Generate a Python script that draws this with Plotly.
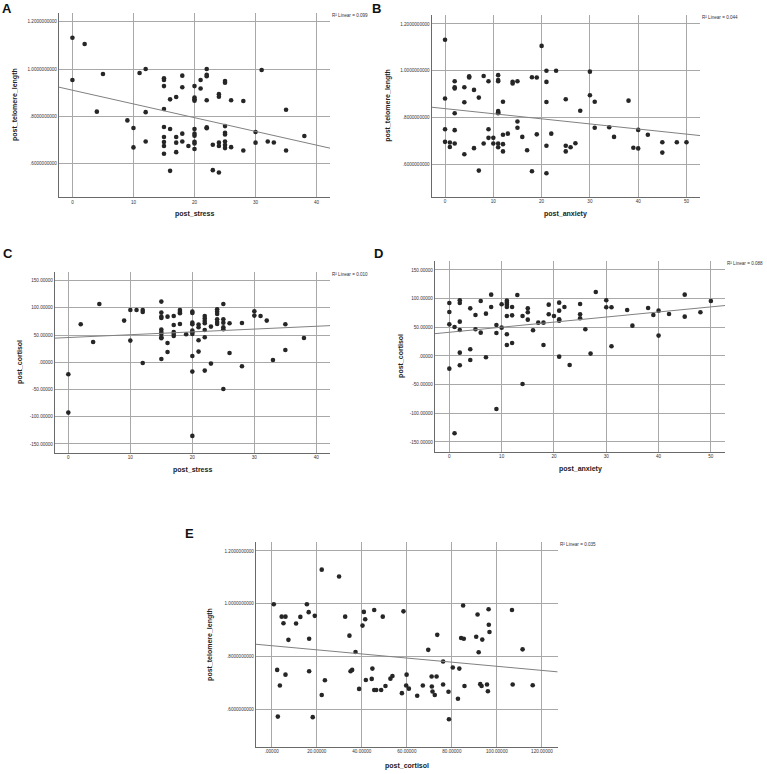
import numpy as np
import plotly.graph_objects as go

# ---------------- DATA ----------------
# Panel A: post_stress vs post_telomere_length
a_stress = [0, 2, 0, 5, 4, 9, 10, 10, 11, 12, 12, 12, 15, 15, 15, 15, 15, 15, 15, 15, 15,
            16, 16, 16, 17, 17, 17, 17, 18, 18, 18, 18, 19, 20, 20, 20, 20, 20, 20, 20, 20, 20, 20,
            21, 21, 22, 22, 22, 22, 22, 22, 23, 23, 24, 24, 24, 24, 24, 25, 25, 25, 25, 25, 25, 25, 25,
            26, 26, 28, 28, 30, 30, 31, 32, 33, 35, 35, 38]
a_telomere = [1.132, 1.106, 0.954, 0.979, 0.820, 0.783, 0.751, 0.669, 0.983, 1.000, 0.818, 0.694,
              0.961, 0.954, 0.928, 0.831, 0.755, 0.713, 0.692, 0.675, 0.642,
              0.872, 0.747, 0.570, 0.882, 0.713, 0.689, 0.649, 0.972, 0.923, 0.727, 0.694, 0.675,
              0.928, 0.880, 0.872, 0.866, 0.747, 0.727, 0.718, 0.693, 0.686, 0.662,
              0.954, 0.918, 1.000, 0.976, 0.970, 0.868, 0.754, 0.750, 0.680, 0.573,
              0.894, 0.883, 0.689, 0.675, 0.563, 0.949, 0.942, 0.759, 0.731, 0.724, 0.694, 0.679, 0.666,
              0.868, 0.670, 0.865, 0.656, 0.734, 0.689, 0.996, 0.694, 0.690, 0.828, 0.656, 0.717]

# Panel B: post_anxiety vs post_telomere_length
b_anxiety = [0, 0, 0, 0, 1, 1, 2, 2, 2, 2, 2, 2, 4, 4, 4, 5, 5, 6, 6, 7, 7, 8, 8, 9, 9, 9,
             10, 10, 11, 11, 11, 11, 11, 11, 11, 11, 12, 12, 12, 12, 13, 14, 14, 15, 15, 15,
             16, 17, 18, 18, 19, 19, 20, 21, 21, 21, 21, 21, 22, 23, 25, 25, 25, 26, 27, 28,
             30, 30, 31, 31, 34, 35, 38, 39, 40, 40, 42, 45, 45, 48, 50]
b_telomere = [1.132, 0.881, 0.750, 0.696, 0.693, 0.674, 0.955, 0.929, 0.924, 0.818, 0.746, 0.689,
              0.929, 0.865, 0.643, 0.976, 0.971, 0.918, 0.669, 0.885, 0.573, 0.977, 0.689,
              0.955, 0.750, 0.713, 0.713, 0.689, 0.981, 0.960, 0.955, 0.828, 0.822, 0.818, 0.689, 0.673,
              0.867, 0.726, 0.686, 0.655, 0.731, 0.953, 0.945, 0.955, 0.783, 0.756,
              0.717, 0.660, 0.972, 0.570, 0.971, 0.728, 1.106, 1.000, 0.952, 0.866, 0.679, 0.562,
              0.731, 1.000, 0.878, 0.679, 0.655, 0.673, 0.690, 0.829,
              0.996, 0.895, 0.867, 0.756, 0.758, 0.717, 0.872, 0.671, 0.747, 0.668, 0.726,
              0.694, 0.650, 0.694, 0.694]

# Panel C: post_stress vs post_cortisol
c_stress = [0, 0, 2, 4, 5, 9, 10, 10, 11, 12, 12, 12, 15, 15, 15, 15, 15, 15, 15, 15, 15, 15,
            16, 16, 16, 17, 17, 17, 17, 17, 18, 18, 18, 18, 19, 20, 20, 20, 20, 20, 20, 20, 20, 20, 20,
            21, 21, 21, 21, 22, 22, 22, 22, 22, 22, 22, 23, 23, 24, 24, 24, 24, 24, 24,
            25, 25, 25, 25, 25, 25, 26, 26, 28, 28, 30, 30, 31, 32, 33, 35, 35, 38]
c_cortisol = [-22.0, -92.4, 69.8, 37.3, 107.1, 76.5, 96.1, 39.8, 96.1, 96.1, 92.4, -1.2,
              111.4, 91.2, 83.8, 81.4, 60.0, 55.7, 52.0, 45.9, 44.1, 6.1,
              83.8, 35.5, 19.0, 85.0, 68.5, 55.7, 52.0, 48.3, 96.1, 92.4, 90.0, 70.4, 51.4,
              93.0, 90.6, 72.8, 69.8, 58.1, 55.1, 52.0, 11.6, -17.1, -135.2,
              69.2, 64.3, 40.4, 19.6, 85.0, 80.2, 75.9, 71.6, 59.4, 45.9, -15.3, 65.5, -2.4,
              97.3, 93.0, 88.7, 79.0, 74.0, 70.4,
              107.1, 79.0, 72.8, 64.3, 60.6, -49.0, 71.6, 17.1, 72.2, -7.3, 93.6, 85.7, 85.0,
              76.5, 4.3, 69.8, 22.6, 44.7]

# Panel D: post_anxiety vs post_cortisol
d_anxiety = [0, 0, 0, 0, 1, 1, 2, 2, 2, 2, 2, 2, 4, 4, 4, 5, 5, 6, 6, 7, 7, 8, 8, 9, 9, 9,
             10, 10, 11, 11, 11, 11, 11, 11, 11, 12, 12, 12, 13, 14, 14, 15, 15, 15, 16, 17,
             18, 18, 19, 19, 20, 21, 21, 21, 21, 21, 22, 23, 25, 25, 25, 26, 27, 28, 30, 30,
             31, 31, 34, 35, 38, 39, 40, 40, 42, 45, 45, 48, 50]
d_cortisol = [92.4, 76.7, 55.2, -22.1, 50.6, -134.9, 97.1, 92.4, 59.9, 45.3, 5.8, -16.3,
              83.1, 11.6, -7.0, 71.5, 46.5, 95.9, 40.7, 73.8, -2.3, 107.0, 85.5, 54.1, 40.1, -92.4,
              90.1, 49.4, 96.5, 93.0, 89.5, 85.5, 69.8, 37.8, 19.2, 85.5, 70.9, 22.7, 106.4,
              69.8, -48.8, 83.1, 76.2, 63.4, 44.8, 58.1, 58.1, 19.2, 89.5, 72.7, 69.8,
              93.0, 79.1, 64.0, 61.6, -1.2, 85.5, -15.7, 90.7, 72.7, 65.7, 46.5, 4.1, 111.6,
              97.1, 84.9, 84.9, 16.9, 80.2, 52.9, 83.7, 71.5, 79.1, 35.5, 73.3, 107.0, 68.6,
              76.2, 95.9]

# Panel E: post_cortisol vs post_telomere_length
e_cortisol = [0.9, 2.4, 2.7, 3.6, 4.4, 5.2, 6.1, 6.1, 7.4, 10.8, 12.7, 15.6, 16.4, 16.6, 16.6,
              18.2, 19.1, 22.2, 22.2, 23.6, 29.9, 32.6, 34.5, 35.0, 35.7, 37.2, 38.8, 40.3,
              40.9, 41.5, 41.8, 44.4, 44.7, 45.5, 45.5, 46.4, 48.6, 49.3, 50.5, 52.7, 53.6,
              57.8, 58.5, 59.7, 59.9, 60.9, 64.6, 67.1, 69.5, 71.0, 71.1, 71.4, 72.4, 73.2,
              73.5, 76.1, 76.1, 78.5, 78.7, 80.4, 82.7, 83.3, 84.1, 85.0, 85.3, 85.6, 90.8,
              91.4, 91.9, 92.6, 93.2, 93.5, 95.6, 96.0, 96.3, 96.4, 96.7, 106.7, 107.0, 111.4,
              115.9]
e_telomere = [0.998, 0.749, 0.572, 0.690, 0.951, 0.926, 0.951, 0.731, 0.863, 0.925, 0.950,
              0.998, 0.968, 0.867, 0.744, 0.570, 0.954, 1.129, 0.654, 0.710, 1.103, 0.951,
              0.879, 0.744, 0.749, 0.817, 0.677, 0.917, 0.969, 0.941, 0.711, 0.715, 0.754,
              0.976, 0.673, 0.673, 0.673, 0.951, 0.688, 0.716, 0.726, 0.661, 0.971, 0.690,
              0.731, 0.678, 0.651, 0.690, 0.825, 0.724, 0.686, 0.667, 0.654, 0.724, 0.882,
              0.781, 0.694, 0.666, 0.562, 0.758, 0.640, 0.754, 0.870, 0.993, 0.867, 0.688,
              0.875, 0.959, 0.816, 0.695, 0.688, 0.864, 0.694, 0.668, 0.979, 0.920, 0.893,
              0.976, 0.694, 0.827, 0.691]

# Tick labels
telomere_ticks = [0.6, 0.8, 1.0, 1.2]
telomere_ticktext = [".6000000000", ".8000000000", "1.0000000000", "1.2000000000"]
cortisol_ticks = [-150, -100, -50, 0, 50, 100, 150]
cortisol_ticktext = ["-150.00000", "-100.00000", "-50.00000", ".00000", "50.00000", "100.00000", "150.00000"]
stress_ticks = [0, 10, 20, 30, 40]
anxiety_ticks = [0, 10, 20, 30, 40, 50]
cort_x_ticks = [0, 20, 40, 60, 80, 100, 120]
cort_x_ticktext = [".00000", "20.00000", "40.00000", "60.00000", "80.00000", "100.00000", "120.00000"]

panel_letters = ["A", "B", "C", "D", "E"]
r2_labels = ["0.099", "0.044", "0.010", "0.088", "0.035"]
x_titles = ["post_stress", "post_anxiety", "post_stress", "post_anxiety", "post_cortisol"]
y_titles = ["post_telomere_length", "post_telomere_length", "post_cortisol", "post_cortisol", "post_telomere_length"]

# ---------------- LAYOUT ----------------
W, H = 767, 774
FONT = "Liberation Sans, Arial, sans-serif"

def px(x):
    return x / W

def py(y):
    return 1 - y / H

panels = [
    dict(x=a_stress, y=a_telomere, box=(59, 330, 13, 197), xr=(-2.2, 42.2), yr=(0.4595, 1.2367),
         xt=stress_ticks, xtt=[str(v) for v in stress_ticks], yt=telomere_ticks, ytt=telomere_ticktext,
         letter=(7, 8.5), r2=(330, 15), xtitle_y=214, ytitle_x=15),
    dict(x=b_anxiety, y=b_telomere, box=(431.7, 700, 15, 196.7), xr=(-2.76, 52.8), yr=(0.4615, 1.238),
         xt=anxiety_ticks, xtt=[str(v) for v in anxiety_ticks], yt=telomere_ticks, ytt=telomere_ticktext,
         letter=(376, 8.5), r2=(700, 17), xtitle_y=214, ytitle_x=388),
    dict(x=c_stress, y=c_cortisol, box=(55, 330, 271.7, 452.7), xr=(-2.15, 42.2), yr=(-166, 166.3),
         xt=stress_ticks, xtt=[str(v) for v in stress_ticks], yt=cortisol_ticks, ytt=cortisol_ticktext,
         letter=(8, 253.5), r2=(330, 274), xtitle_y=470, ytitle_x=20.7),
    dict(x=d_anxiety, y=d_cortisol, box=(435, 725, 260.7, 451.7), xr=(-2.74, 52.7), yr=(-167, 166.2),
         xt=anxiety_ticks, xtt=[str(v) for v in anxiety_ticks], yt=cortisol_ticks, ytt=cortisol_ticktext,
         letter=(378, 253.5), r2=(725, 264), xtitle_y=469, ytitle_x=400.7),
    dict(x=e_cortisol, y=e_telomere, box=(256, 557.7, 541.7, 746.7), xr=(-7.0, 127.0), yr=(0.458, 1.235),
         xt=cort_x_ticks, xtt=cort_x_ticktext, yt=telomere_ticks, ytt=telomere_ticktext,
         letter=(189, 533.5), r2=(558, 544), xtitle_y=765.7, ytitle_x=210.7),
]

fig = go.Figure()
annotations = []
layout_axes = {}

for i, p in enumerate(panels):
    n = "" if i == 0 else str(i + 1)
    xa, ya = "x" + n, "y" + n
    x0, x1, y0, y1 = p["box"]

    xs = np.array(p["x"], dtype=float)
    ys = np.array(p["y"], dtype=float)
    fig.add_trace(go.Scatter(x=xs, y=ys, mode="markers", xaxis=xa, yaxis=ya,
                             marker=dict(size=4.6, color="#262626"), hoverinfo="skip",
                             showlegend=False))
    slope, intercept = np.polyfit(xs, ys, 1)
    lx = np.array(p["xr"])
    fig.add_trace(go.Scatter(x=lx, y=intercept + slope * lx, mode="lines", xaxis=xa, yaxis=ya,
                             line=dict(color="#808080", width=1), hoverinfo="skip",
                             showlegend=False))

    common = dict(showline=True, linecolor="#6a6a6a", linewidth=1.3, mirror=False,
                  showgrid=True, gridcolor="#a8a8a8", gridwidth=0.9, zeroline=False,
                  ticks="", tickfont=dict(family=FONT, size=4.6, color="#333333"))
    layout_axes["xaxis" + n] = dict(common, domain=[px(x0), px(x1)], anchor=ya, range=list(p["xr"]),
                                    tickmode="array", tickvals=p["xt"], ticktext=p["xtt"])
    layout_axes["yaxis" + n] = dict(common, domain=[py(y1), py(y0)], anchor=xa, range=list(p["yr"]),
                                    tickmode="array", tickvals=p["yt"], ticktext=p["ytt"])

    # panel letter
    annotations.append(dict(text="<b>%s</b>" % panel_letters[i], x=px(p["letter"][0]), y=py(p["letter"][1]),
                            xref="paper", yref="paper", showarrow=False, xanchor="center", yanchor="middle",
                            font=dict(family=FONT, size=13, color="#111111")))
    # R2 label
    annotations.append(dict(text="R\u00b2 Linear = %s" % r2_labels[i], x=px(p["r2"][0]), y=py(p["r2"][1]),
                            xref="paper", yref="paper", showarrow=False, xanchor="left", yanchor="middle",
                            font=dict(family=FONT, size=4.6, color="#333333")))
    # x title
    annotations.append(dict(text="<b>%s</b>" % x_titles[i], x=px((x0 + x1) / 2), y=py(p["xtitle_y"]),
                            xref="paper", yref="paper", showarrow=False, xanchor="center", yanchor="middle",
                            font=dict(family=FONT, size=7, color="#222222")))
    # y title
    annotations.append(dict(text="<b>%s</b>" % y_titles[i], x=px(p["ytitle_x"]), y=py((y0 + y1) / 2),
                            xref="paper", yref="paper", showarrow=False, xanchor="center", yanchor="middle",
                            textangle=-90, font=dict(family=FONT, size=7, color="#222222")))

fig.update_layout(width=W, height=H, margin=dict(l=0, r=0, t=0, b=0),
                  paper_bgcolor="white", plot_bgcolor="white", showlegend=False,
                  annotations=annotations, **layout_axes)

# remove the page's default 8px body margin so the figure fills the window exactly
fig.write_html("out.html", config={"displayModeBar": False},
               post_script="document.body.style.margin='0';document.body.style.overflow='hidden';")
